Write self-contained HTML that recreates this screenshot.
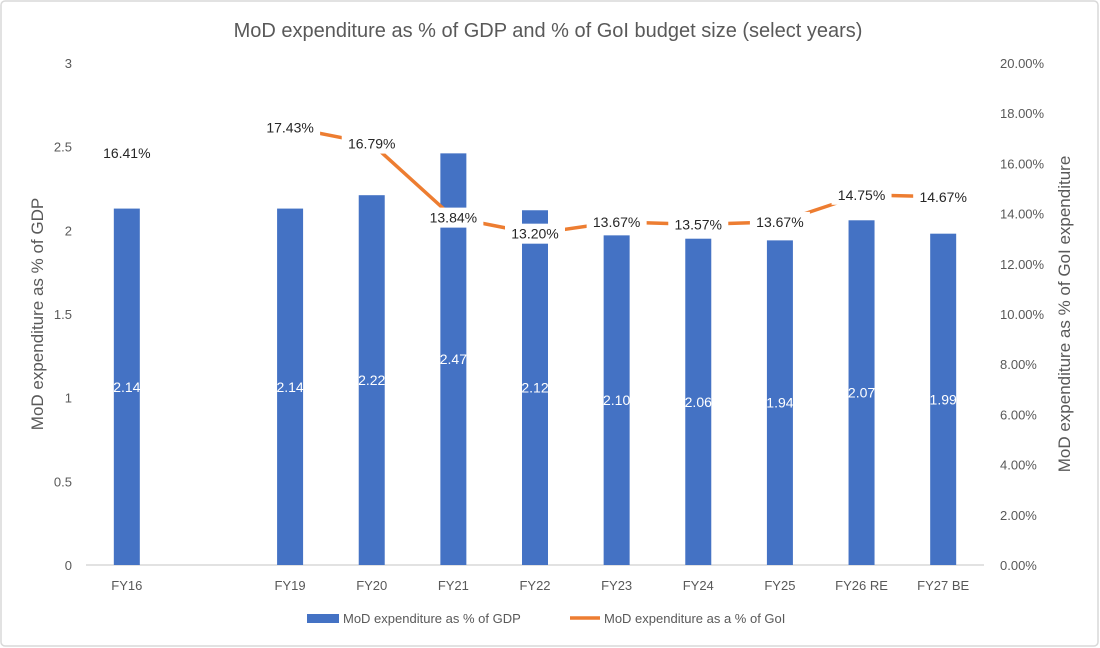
<!DOCTYPE html>
<html><head><meta charset="utf-8"><style>
html,body{margin:0;padding:0;background:#fff;}
svg{display:block;font-family:"Liberation Sans",sans-serif;}
</style></head><body>
<svg id="chart" width="1100" height="648" viewBox="0 0 1100 648">
<rect x="1" y="1" width="1097" height="645" rx="4" fill="#fff" stroke="#d9d9d9" stroke-width="1.5"/>
<text x="548" y="37" text-anchor="middle" font-size="20" fill="#595959">MoD expenditure as % of GDP and % of GoI budget size (select years)</text>
<text transform="translate(43,314) rotate(-90)" text-anchor="middle" font-size="17" fill="#595959">MoD expenditure as % of GDP</text>
<text transform="translate(1070,314) rotate(-90)" text-anchor="middle" font-size="17" fill="#595959">MoD expenditure as % of GoI expenditure</text>
<g id="axes"></g><g id="bars"></g><g id="line"></g><g id="labels"></g>
<g>
<rect x="307" y="614" width="32" height="9" fill="#4472c4"/>
<text x="343" y="623" font-size="13" fill="#595959">MoD expenditure as % of GDP</text>
<line x1="570" y1="618" x2="600" y2="618" stroke="#ed7d31" stroke-width="3.5"/>
<text x="604" y="623" font-size="13" fill="#595959">MoD expenditure as a % of GoI</text>
</g>
</svg>
<script>
const categories = ["FY16","","FY19","FY20","FY21","FY22","FY23","FY24","FY25","FY26 RE","FY27 BE"];
const gdpValues = [2.13,null,2.13,2.21,2.46,2.12,1.97,1.95,1.94,2.06,1.98];
const gdpLabels = ["2.14",null,"2.14","2.22","2.47","2.12","2.10","2.06","1.94","2.07","1.99"];
const goiValues = [16.41,null,17.43,16.79,13.84,13.20,13.67,13.57,13.67,14.75,14.67];
const leftTicks = [0,0.5,1,1.5,2,2.5,3];
const rightTicks = [0,2,4,6,8,10,12,14,16,18,20];

const NS="http://www.w3.org/2000/svg";
const x0=86,x1=984,yB=565,yT=63;
const bw=(x1-x0)/categories.length;
const xC=i=>x0+bw*(i+0.5);
const yL=v=>yB-(v/3)*(yB-yT);
const yR=v=>yB-(v/20)*(yB-yT);
function mk(tag,attrs,parent,txt){const e=document.createElementNS(NS,tag);for(const k in attrs)e.setAttribute(k,attrs[k]);if(txt!=null)e.textContent=txt;parent.appendChild(e);return e;}
const axes=document.getElementById('axes'),bars=document.getElementById('bars'),line=document.getElementById('line'),labels=document.getElementById('labels');
leftTicks.forEach(t=>{const e=mk('text',{x:72,y:yL(t)+5,'text-anchor':'end','font-size':13,fill:'#595959'},axes,String(t));

});
rightTicks.forEach(t=>{const e=mk('text',{x:1000,y:yR(t)+5,'font-size':13,fill:'#595959'},axes,t.toFixed(2)+'%');

});
const ax=mk('line',{x1:x0,x2:x1,y1:yB,y2:yB,stroke:'#d9d9d9','stroke-width':1.5},axes);


categories.forEach((c,i)=>{if(!c)return;const e=mk('text',{x:xC(i),y:yB+25,'text-anchor':'middle','font-size':13,fill:'#595959'},axes,c);

});
gdpValues.forEach((v,i)=>{if(v==null)return;const w=26;
const r=mk('rect',{x:xC(i)-w/2,y:yL(v),width:w,height:yB-yL(v),fill:'#4472c4'},bars);


const t=mk('text',{x:xC(i),y:(yL(v)+yB)/2+5,'text-anchor':'middle','font-size':14,fill:'#fff'},bars,gdpLabels[i]);

});
let seg=[];const segs=[];
goiValues.forEach((v,i)=>{if(v==null){if(seg.length)segs.push(seg);seg=[];}else seg.push([xC(i),yR(v)]);});
if(seg.length)segs.push(seg);
segs.forEach(s=>{if(s.length<2)return;const p=mk('polyline',{points:s.map(q=>q.join(',')).join(' '),fill:'none',stroke:'#ed7d31','stroke-width':3.5,'stroke-linejoin':'round'},line);

});
goiValues.forEach((v,i)=>{if(v==null)return;const s=v.toFixed(2)+'%';
const b=mk('rect',{x:xC(i)-30,y:yR(v)-10,width:60,height:20,fill:'#fff'},labels);


const t=mk('text',{x:xC(i),y:yR(v)+5,'text-anchor':'middle','font-size':14,fill:'#262626'},labels,s);

});
</script>
</body></html>
